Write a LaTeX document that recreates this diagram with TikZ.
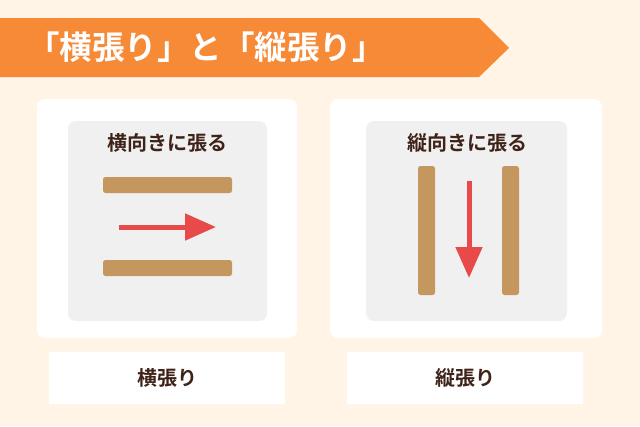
\documentclass[tikz,border=0pt]{standalone}
\usepackage{fontspec}
\setmainfont{Noto Sans CJK JP}[BoldFont={Noto Sans CJK JP Bold}]
\usetikzlibrary{arrows.meta}
\definecolor{bgc}{HTML}{FFF4E6}
\definecolor{orangec}{HTML}{F68A37}
\definecolor{grayc}{HTML}{F0F0F0}
\definecolor{barc}{HTML}{C4975F}
\definecolor{redc}{HTML}{E84A4A}
\definecolor{textc}{HTML}{3F2318}
\tikzset{
  panel/.style={fill=white, rounded corners=8pt},
  inner/.style={fill=grayc, rounded corners=8pt},
  board/.style={fill=barc, rounded corners=2.5pt},
  label/.style={font=\bfseries\fontsize{20}{20}\selectfont, text=textc, inner sep=0pt},
  caption/.style={fill=white, minimum width=236pt, minimum height=52pt, inner sep=0pt, font=\bfseries\fontsize{20}{20}\selectfont, text=textc},
  flow/.style={draw=redc, line width=5pt, -{Triangle[length=31pt,width=26pt]}}
}
\begin{document}
\begin{tikzpicture}[x=1pt,y=-1pt]
\fill[bgc] (0,0) rectangle (640,426);
\useasboundingbox (0,0) rectangle (640,426);
% banner
\fill[orangec] (0,18) -- (479,18) -- (509,48) -- (479,77) -- (0,77) -- cycle;
\node[anchor=west, inner sep=0pt, text=white, font=\bfseries\fontsize{32.5}{32.5}\selectfont] (title) at (27,47) {「横張り」と「縦張り」};
% left panel
\fill[panel] (37,99) rectangle (297,338);
\fill[inner] (68,121) rectangle (267,321);
\node[label] (lt) at (167,143) {横向きに張る};
\fill[board] (103,177) rectangle (232,193);
\fill[board] (103,260) rectangle (232,276);
\coordinate (la) at (119,227);
\coordinate (lb) at (216,227);
\draw[flow] (la) -- (lb);
% right panel
\fill[panel] (330,99) rectangle (602,338);
\fill[inner] (366,121) rectangle (567,321);
\node[label] (rt) at (467,143) {縦向きに張る};
\fill[board] (418,166) rectangle (435,295);
\fill[board] (502,166) rectangle (519,295);
\coordinate (ra) at (469,181);
\coordinate (rb) at (469,278);
\draw[flow] (ra) -- (rb);
% captions
\node[caption] (lc) at (167,378) {横張り};
\node[caption] (rc) at (465,378) {縦張り};
\end{tikzpicture}
\end{document}
